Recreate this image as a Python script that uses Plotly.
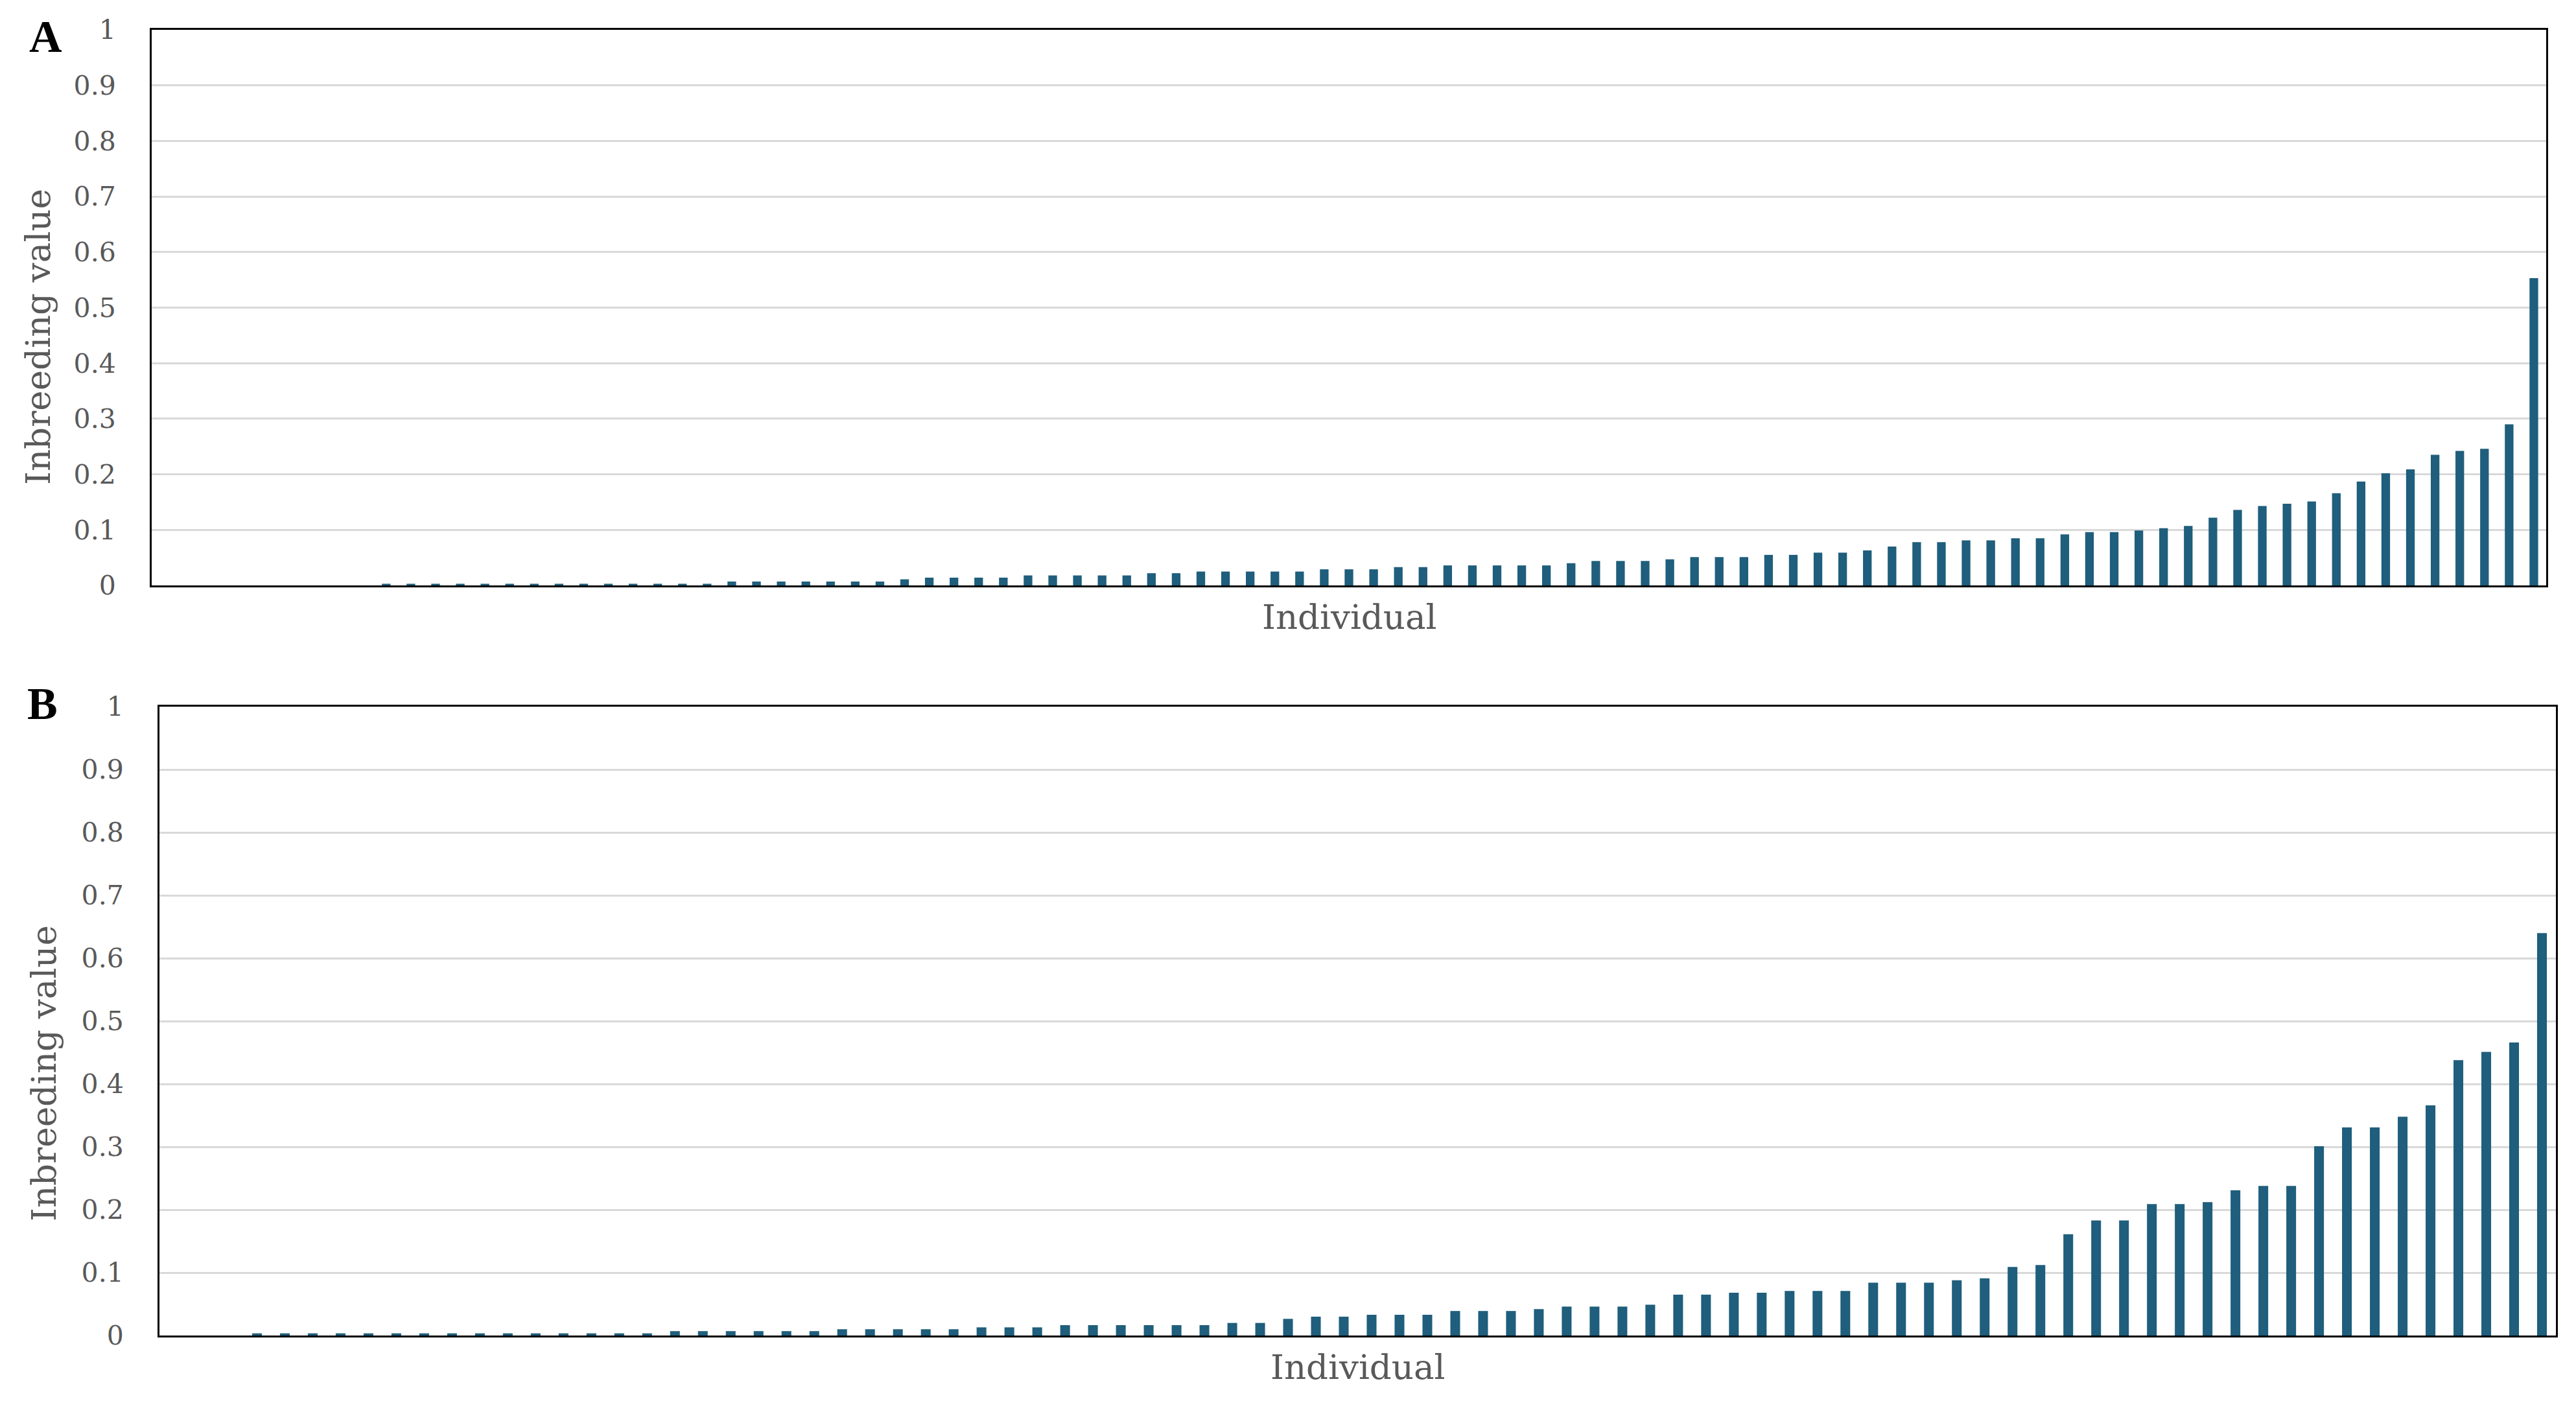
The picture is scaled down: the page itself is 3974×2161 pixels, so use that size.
import plotly.graph_objects as go

W, H = 3974, 2161
PAGE_OFFSET = 8  # default body margin of the html page

# ---------------- data ----------------
inbreeding_a = [
    0, 0, 0, 0, 0, 0, 0, 0, 0,
    0.003, 0.003, 0.003, 0.003, 0.003, 0.003, 0.003, 0.003, 0.003, 0.003, 0.003, 0.003, 0.003, 0.003,
    0.007, 0.007, 0.007, 0.007, 0.007, 0.007, 0.007,
    0.011,
    0.014, 0.014, 0.014, 0.014,
    0.018, 0.018, 0.018, 0.018, 0.018,
    0.022, 0.022,
    0.025, 0.025, 0.025, 0.025, 0.025,
    0.029, 0.029, 0.029,
    0.033, 0.033,
    0.036, 0.036, 0.036, 0.036, 0.036,
    0.040,
    0.044, 0.044, 0.044,
    0.047,
    0.051, 0.051, 0.051,
    0.055, 0.055,
    0.059, 0.059,
    0.063, 0.070, 0.078, 0.078, 0.081, 0.081, 0.085, 0.085, 0.092, 0.096,
    0.096, 0.099, 0.103, 0.107, 0.122, 0.136, 0.143, 0.147, 0.151, 0.166,
    0.187, 0.202, 0.209, 0.235, 0.242, 0.246, 0.290, 0.553,
]
individuals_a = list(range(1, len(inbreeding_a) + 1))

inbreeding_b = [
    0, 0, 0,
    0.0035, 0.0035, 0.0035, 0.0035, 0.0035, 0.0035, 0.0035, 0.0035, 0.0035, 0.0035,
    0.0035, 0.0035, 0.0035, 0.0035, 0.0035,
    0.007, 0.007, 0.007, 0.007, 0.007, 0.007,
    0.010, 0.010, 0.010, 0.010, 0.010,
    0.013, 0.013, 0.013,
    0.0165, 0.0165, 0.0165, 0.0165, 0.0165, 0.0165,
    0.020, 0.020,
    0.0265,
    0.030, 0.030,
    0.033, 0.033, 0.033,
    0.039, 0.039, 0.039,
    0.042,
    0.046, 0.046, 0.046,
    0.049,
    0.065, 0.065, 0.068, 0.068, 0.071, 0.071, 0.071, 0.084, 0.084, 0.084,
    0.088, 0.091, 0.109, 0.112, 0.161, 0.183, 0.183, 0.209, 0.209, 0.212,
    0.231, 0.238, 0.238, 0.301, 0.331, 0.331, 0.348, 0.366, 0.438, 0.451,
    0.466, 0.640,
]
individuals_b = list(range(1, len(inbreeding_b) + 1))

tick_values = [0, 0.1, 0.2, 0.3, 0.4, 0.5, 0.6, 0.7, 0.8, 0.9, 1]
tick_labels = ["0", "0.1", "0.2", "0.3", "0.4", "0.5", "0.6", "0.7", "0.8", "0.9", "1"]

panel_labels = ["A", "B"]
y_title = "Inbreeding value"
x_title = "Individual"

# ---------------- style ----------------
BAR = "#1F5E7C"
GRID = "#D9D9D9"
TXT = "#595959"
FONT = "DejaVu Serif, Liberation Serif, serif"


def px_x(p):
    return (p - PAGE_OFFSET) / W


def px_y(p):
    return 1 - (p - PAGE_OFFSET) / H


fig = go.Figure()
fig.add_trace(go.Bar(x=individuals_a, y=inbreeding_a, marker_color=BAR,
                     marker_line_width=0, xaxis="x", yaxis="y", showlegend=False))
fig.add_trace(go.Bar(x=individuals_b, y=inbreeding_b, marker_color=BAR,
                     marker_line_width=0, xaxis="x2", yaxis="y2", showlegend=False))

xcommon = dict(showticklabels=False, ticks="", showgrid=False, zeroline=False,
               showline=True, linecolor="black", linewidth=3, mirror=True,
               automargin=False)
ycommon = dict(range=[0, 1], tickvals=tick_values, ticktext=tick_labels,
               showgrid=True, gridcolor=GRID, gridwidth=2.5, zeroline=False,
               showline=True, linecolor="black", linewidth=3, mirror=True,
               ticks="", ticklabelstandoff=44, automargin=False,
               tickfont=dict(family=FONT, size=41, color=TXT))

fig.update_layout(
    width=W, height=H,
    margin=dict(l=0, r=0, t=0, b=0, pad=0, autoexpand=False),
    paper_bgcolor="white", plot_bgcolor="white",
    bargap=0.65,
    xaxis=dict(domain=[px_x(234), px_x(3928)], range=[0.5, len(inbreeding_a) + 0.5],
               anchor="y", **xcommon),
    yaxis=dict(domain=[px_y(903), px_y(46)], anchor="x", **ycommon),
    xaxis2=dict(domain=[px_x(246), px_x(3943)], range=[0.5, len(inbreeding_b) + 0.5],
                anchor="y2", **xcommon),
    yaxis2=dict(domain=[px_y(2060), px_y(1090)], anchor="x2", **ycommon),
)

annotations = [
    dict(text=panel_labels[0], x=px_x(70), y=px_y(56)),
    dict(text=panel_labels[1], x=px_x(65), y=px_y(1085)),
]
for a in annotations:
    a.update(xref="paper", yref="paper", showarrow=False, xanchor="center", yanchor="middle",
             font=dict(family="Liberation Serif, serif", size=70, color="black"))
    a["text"] = "<b>" + a["text"] + "</b>"

titles = [
    dict(text=y_title, x=px_x(58), y=px_y(520), textangle=-90),
    dict(text=y_title, x=px_x(67), y=px_y(1656), textangle=-90),
    dict(text=x_title, x=px_x(2081), y=px_y(952)),
    dict(text=x_title, x=px_x(2094), y=px_y(2108)),
]
for t in titles:
    t.update(xref="paper", yref="paper", showarrow=False, xanchor="center", yanchor="middle",
             font=dict(family=FONT, size=53, color=TXT))

fig.update_layout(annotations=annotations + titles)

fig.write_html("out.html")
